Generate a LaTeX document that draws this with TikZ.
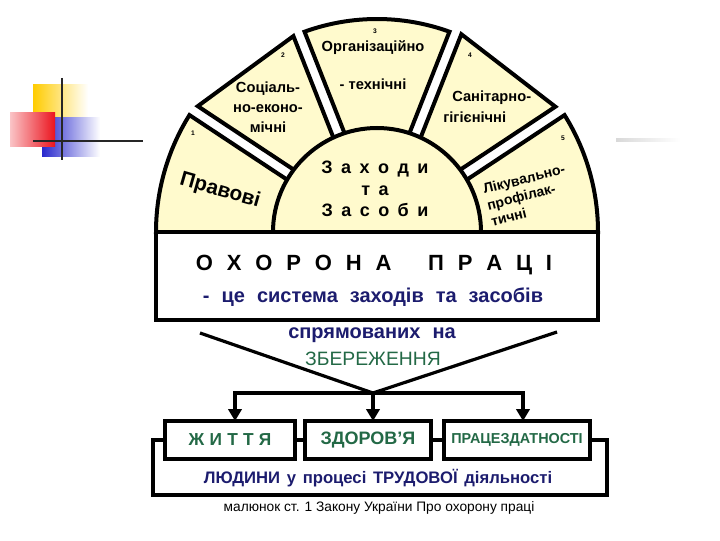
\documentclass[tikz,border=0pt]{standalone}
\usepackage{fontspec}
\setmainfont{Liberation Sans}
\usetikzlibrary{arrows.meta, positioning}

\definecolor{sectorfill}{RGB}{255,250,205}
\definecolor{navytext}{RGB}{28,28,110}
\definecolor{greentext}{RGB}{35,105,70}
\definecolor{logoyellow}{RGB}{255,204,0}
\definecolor{logored}{RGB}{235,20,30}
\definecolor{logoblue}{RGB}{40,40,205}

\newcommand\wordgap[1]{\spaceskip=#1\relax}

\begin{document}
\begin{tikzpicture}[x=0.75pt, y=0.75pt,
    sector/.style={draw=black, line width=3pt, fill=sectorfill},
    mainbox/.style={draw=black, line width=3pt, fill=white, inner sep=0pt, outer sep=0pt},
    resultbox/.style={draw=black, line width=3pt, fill=white, minimum height=28.5pt, inner sep=0pt, outer sep=0pt, text=greentext},
    numlabel/.style={font=\fontsize{5}{6}\selectfont\bfseries, inner sep=0pt},
    sectorlabel/.style={font=\fontsize{11}{15}\selectfont\bfseries, align=center, inner sep=0pt},
    bluelabel/.style={font={\fontsize{15}{17}\selectfont\bfseries\wordgap{0.6em}}, text=navytext, inner sep=0pt},
    connline/.style={line width=2.4pt},
    arrowline/.style={line width=3pt, -{Triangle[length=9pt, width=10pt]}},
    frameline/.style={line width=3.5pt}
]
    \def\rInner{104}
    \def\rOuter{221}

    % ФОН
    \useasboundingbox (0,0) rectangle (720,540);
    \fill[white] (0,0) rectangle (720,540);

    % ЛОГОТИП
    \shade[left color=logoyellow, middle color=logoyellow, right color=white] (33,420) rectangle (88,455);
    \shade[left color=logoblue, middle color=logoblue!85, right color=white] (42,383) rectangle (100,422);
    \shade[left color=logored!25, right color=logored] (10,393) rectangle (55,427);
    \draw[line width=2pt, black!85] (62,462) -- (62,380);
    \draw[line width=2pt, black!85] (33,399) -- (143,399);
    \shade[left color=black!15, right color=white] (616,398) rectangle (680,401);

    % СЕКТОРИ
    \begin{scope}[shift={(377,308)}]
        \draw[sector] (180:96) -- (180:\rOuter) arc[start angle=180, end angle=148.06, radius=\rOuter] -- (150.08:96) -- cycle;
        \draw[sector] (142.92:96) -- (144.93:219) -- (113.11:213) -- (115.08:96) -- cycle;
        \draw[sector] (107.92:96) -- (109.89:213) arc[start angle=109.89, end angle=70.11, radius=213] -- (72.08:96) -- cycle;
        \draw[sector] (64.92:96) -- (66.90:215) -- (35.08:218) -- (37.08:96) -- cycle;
        \draw[sector] (29.92:96) -- (31.94:\rOuter) arc[start angle=31.94, end angle=0, radius=\rOuter] -- (0:96) -- cycle;
        % ЦЕНТР
        \draw[sector] (-\rInner,0) arc[start angle=180, end angle=0, radius=\rInner] -- cycle;
    \end{scope}

    \foreach \n/\x/\y in {1/193/407, 2/283/485, 3/375/509, 4/470/485, 5/563/402} {
        \node[numlabel] (num\n) at (\x,\y) {\n};
    }

    \node[sectorlabel, rotate=-16, font=\fontsize{15.5}{18}\selectfont\bfseries] (pravovi) at (220,349) {Правові};
    \node[sectorlabel] (sotsial) at (268,433) {Соціаль-\\но-еконо-\\мічні};
    \node[sectorlabel] (orhan) at (373,492) {Організаційно};
    \node[sectorlabel] (tekhn) at (373,456) {- технічні};
    \node[sectorlabel, anchor=west] (sanit) at (452,442) {Санітарно-};
    \node[sectorlabel, anchor=west] (hihien) at (443,423) {гігієнічні};
    \node[sectorlabel, rotate=14, align=left, font=\fontsize{10.5}{12.5}\selectfont\bfseries] (likuv) at (528,345) {Лікувально-\\профілак-\\тичні};
    \node[sectorlabel, font={\fontsize{13.5}{16}\selectfont\bfseries\wordgap{0.47em}}] (zakhody) at (375,351) {З а х о д и\\т а\\З а с о б и};

    % ОХОРОНА ПРАЦІ
    \node[mainbox, minimum width=331.5pt, minimum height=66pt] (okhorona) at (377,264) {};
    \node[inner sep=0pt, font={\fontsize{16.5}{20}\selectfont\bfseries\wordgap{0.63em}}] (title) at (374,275) {О Х О Р О Н А\hspace{1.66em}П Р А Ц І};
    \node[bluelabel] (systema) at (373,243) {- це система заходів та засобів};
    \node[bluelabel] (spriam) at (372,205) {спрямованих на};
    \node[inner sep=0pt, font=\fontsize{14.5}{16}\selectfont, text=greentext] (zberezh) at (373,181) {ЗБЕРЕЖЕННЯ};

    % СТРІЛКИ
    \coordinate (vleft) at (200,207);
    \coordinate (vright) at (557,208);
    \coordinate (hub) at (373,147);
    \draw[connline] (vleft) -- (hub) -- (vright);

    \node[resultbox, minimum width=97.5pt, font={\fontsize{13}{15}\selectfont\bfseries\wordgap{0.3em}}] (zhyttia) at (230,100) {Ж И Т Т Я};
    \node[resultbox, minimum width=94.5pt, right=7.5pt of zhyttia, font=\fontsize{13.5}{15}\selectfont\bfseries] (zdorovia) {ЗДОРОВ’Я};
    \node[resultbox, minimum width=109.5pt, right=9.75pt of zdorovia, font=\fontsize{10.8}{13}\selectfont\bfseries] (pratsezd) {ПРАЦЕЗДАТНОСТІ};

    \draw[arrowline] (hub) -| ([xshift=3.75pt]zhyttia.north);
    \draw[arrowline] (hub) -| ([xshift=4.5pt]pratsezd.north);
    \draw[arrowline] (hub) -- (hub |- zdorovia.north);

    % РАМКА
    \coordinate (framebl) at (153,45);
    \coordinate (framebr) at (607,45);
    \draw[frameline] (zhyttia.west) -| (framebl) -- (framebr) |- (pratsezd.east);
    \draw[frameline] (zhyttia.east) -- (zdorovia.west);
    \draw[frameline] (zdorovia.east) -- (pratsezd.west);

    \node[bluelabel, font={\fontsize{12.5}{15}\selectfont\bfseries\wordgap{0.4em}}] (liudyny) at (378,62) {ЛЮДИНИ у процесі ТРУДОВОЇ діяльності};
    \node[inner sep=0pt, font=\fontsize{10.3}{12}\selectfont] (caption) at (379,32) {малюнок ст. 1 Закону України Про охорону праці};
\end{tikzpicture}
\end{document}
